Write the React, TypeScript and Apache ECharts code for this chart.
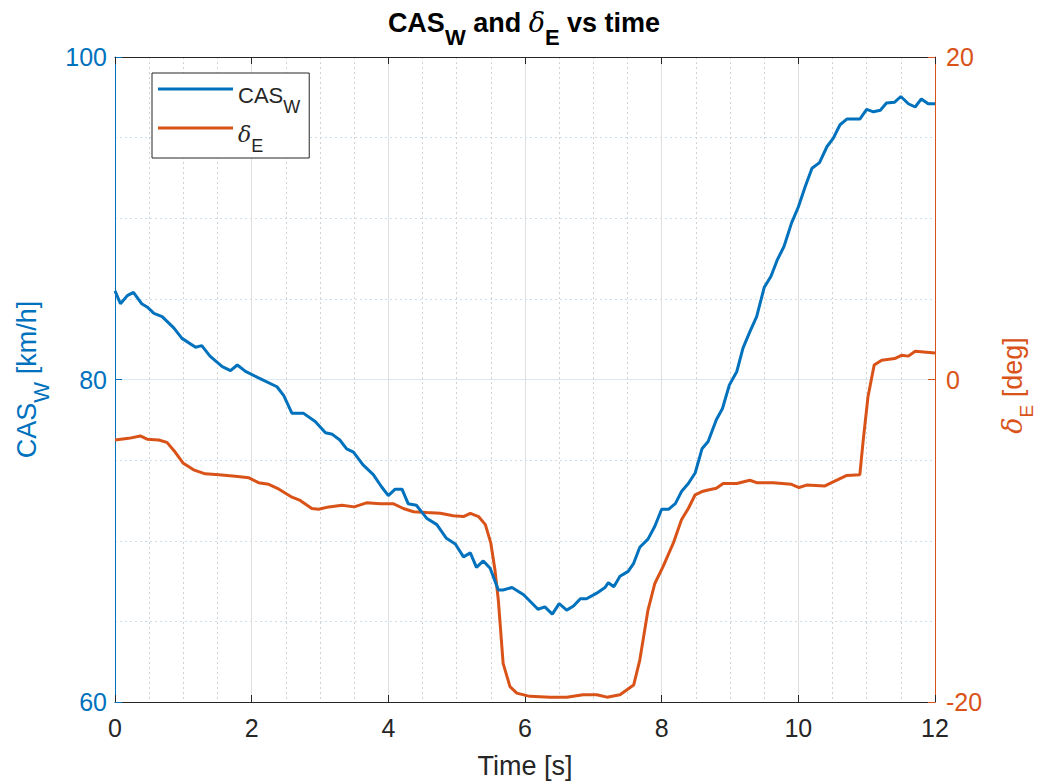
import React, { useEffect, useRef } from "react";
import * as echarts from "echarts";

// Calibrated airspeed (CAS_W) samples: time [s] and speed [km/h]
const casTime = [
  0, 0.08, 0.18, 0.27, 0.39, 0.47, 0.57, 0.69, 0.86, 0.98, 1.18, 1.27, 1.39, 1.57, 1.69, 1.79, 1.91,
  2.1, 2.37, 2.47, 2.59, 2.76, 2.93, 3.08, 3.18, 3.29, 3.39, 3.49, 3.63, 3.78, 3.9, 4.0, 4.1, 4.2,
  4.29, 4.41, 4.56, 4.71, 4.85, 4.98, 5.1, 5.2, 5.29, 5.39, 5.49, 5.61, 5.68, 5.81, 5.98, 6.19, 6.29,
  6.4, 6.5, 6.61, 6.71, 6.81, 6.9, 7.05, 7.17, 7.22, 7.3, 7.39, 7.51, 7.59, 7.68, 7.8, 7.9, 8.0, 8.1,
  8.2, 8.29, 8.39, 8.49, 8.59, 8.68, 8.8, 8.89, 8.99, 9.1, 9.19, 9.29, 9.39, 9.5, 9.6, 9.69, 9.79,
  9.9, 10.0, 10.1, 10.2, 10.31, 10.42, 10.51, 10.61, 10.71, 10.9, 11.0, 11.1, 11.2, 11.29, 11.41,
  11.5, 11.61, 11.71, 11.8, 11.9, 12.0,
];
const casValues = [
  85.5, 84.7, 85.2, 85.4, 84.7, 84.5, 84.1, 83.9, 83.2, 82.55, 82.0, 82.1, 81.45, 80.8, 80.55, 80.9,
  80.5, 80.1, 79.55, 79.0, 77.9, 77.9, 77.4, 76.7, 76.6, 76.25, 75.7, 75.5, 74.7, 74.1, 73.35, 72.8,
  73.2, 73.2, 72.3, 72.2, 71.4, 71.0, 70.15, 69.8, 69.0, 69.25, 68.35, 68.75, 68.3, 66.95, 66.95,
  67.1, 66.65, 65.75, 65.9, 65.45, 66.1, 65.7, 65.95, 66.4, 66.4, 66.75, 67.1, 67.4, 67.15, 67.8,
  68.1, 68.6, 69.6, 70.1, 70.9, 71.95, 71.95, 72.3, 73.05, 73.55, 74.2, 75.7, 76.15, 77.5, 78.2,
  79.65, 80.5, 81.95, 82.95, 83.9, 85.7, 86.4, 87.4, 88.25, 89.7, 90.7, 91.95, 93.1, 93.45, 94.45,
  94.95, 95.8, 96.15, 96.15, 96.75, 96.6, 96.7, 97.15, 97.2, 97.55, 97.1, 96.9, 97.4, 97.1, 97.1,
];

// Elevator deflection (delta_E) samples: time [s] and angle [deg]
const elevTime = [
  0, 0.2, 0.37, 0.47, 0.64, 0.76, 0.88, 1.0, 1.15, 1.32, 1.52, 1.76, 1.96, 2.1, 2.25, 2.4, 2.59, 2.71,
  2.88, 2.98, 3.13, 3.32, 3.5, 3.68, 3.88, 4.07, 4.22, 4.37, 4.56, 4.76, 4.95, 5.1, 5.2, 5.32, 5.42,
  5.5, 5.56, 5.61, 5.68, 5.78, 5.88, 6.07, 6.37, 6.61, 6.85, 7.05, 7.2, 7.39, 7.59, 7.68, 7.8, 7.9,
  8.02, 8.17, 8.29, 8.39, 8.49, 8.59, 8.68, 8.8, 8.9, 9.1, 9.29, 9.39, 9.63, 9.9, 10.01, 10.12,
  10.39, 10.51, 10.71, 10.9, 10.95, 11.02, 11.11, 11.22, 11.41, 11.51, 11.61, 11.71, 12.0,
];
const elevValues = [
  -3.75, -3.65, -3.5, -3.7, -3.75, -3.9, -4.5, -5.2, -5.6, -5.85, -5.9, -6.0, -6.1, -6.4, -6.5, -6.8,
  -7.3, -7.5, -8.0, -8.05, -7.9, -7.8, -7.9, -7.65, -7.7, -7.7, -8.0, -8.2, -8.25, -8.3, -8.45, -8.5,
  -8.3, -8.5, -9.0, -10.15, -11.8, -13.7, -17.6, -19.05, -19.45, -19.65, -19.7, -19.7, -19.55,
  -19.55, -19.7, -19.55, -18.95, -17.4, -14.3, -12.65, -11.6, -10.15, -8.7, -8.0, -7.15, -6.95,
  -6.85, -6.75, -6.45, -6.45, -6.25, -6.4, -6.4, -6.5, -6.7, -6.55, -6.6, -6.35, -5.95, -5.9, -3.75,
  -1.05, 0.9, 1.2, 1.3, 1.5, 1.45, 1.75, 1.65,
];

const timeTicks = { min: 0, max: 12, step: 2 };
const casTicks = { min: 60, max: 100, step: 20 };
const elevTicks = { min: -20, max: 20, step: 20 };

const BLUE = "#0072BD";
const ORANGE = "#D95319";
const DARK = "#262626";
const FONT = "'Liberation Sans', Arial, Helvetica, sans-serif";

const zip = (xs: number[], ys: number[]) => xs.map((x, i) => [x, ys[i]]);

// Rich-text styles for TeX-like labels: main text stays vertically centred in
// the block, subscripts are smaller and dropped below the baseline.
const texRich = (
  color: string,
  s: number,
  weight: string,
  opts: { subScale?: number; drop?: number; padBottom?: number } = {}
) => {
  const pt = Math.round(0.33 * s);
  const pb = opts.padBottom ?? pt;
  const drop = Math.round((opts.drop ?? 0.622) * s);
  const sub = Math.round((opts.subScale ?? 0.8) * s);
  return {
    main: {
      fontSize: s, fontWeight: weight, color, fontFamily: FONT,
      lineHeight: Math.round(1.1 * s), verticalAlign: "top", padding: [pt, 0, pb, 0],
    },
    greek: {
      fontSize: s, fontStyle: "italic", fontWeight: "normal", color, fontFamily: "'DejaVu Serif', serif",
      lineHeight: Math.round(1.1 * s), verticalAlign: "top", padding: [pt, 0, pb, 0],
    },
    sub: {
      fontSize: sub, fontWeight: weight, color, fontFamily: FONT,
      lineHeight: sub, verticalAlign: "top", padding: [pt + drop, 0, 0, 0],
    },
  };
};

export default function App() {
  const ref = useRef<HTMLDivElement>(null);

  useEffect(() => {
    if (!ref.current) return;
    const chart = echarts.init(ref.current, undefined, { renderer: "svg" });

    chart.setOption({
      animation: false,
      backgroundColor: "#ffffff",
      title: {
        text: "{main|CAS}{sub|W}{main| and }{greek|δ}{sub|E}{main| vs time}",
        left: 524,
        top: 0,
        padding: 0,
        textAlign: "center",
        textStyle: { rich: texRich("#000000", 27, "bold") },
      },
      legend: {
        orient: "vertical",
        left: 152,
        top: 73,
        padding: [4, 9, 3, 6],
        itemGap: 0,
        itemWidth: 75,
        itemHeight: 3,
        icon: "rect",
        backgroundColor: "#ffffff",
        borderColor: DARK,
        borderWidth: 1,
        borderRadius: 0,
        data: ["CAS_W", "delta_E"],
        formatter: (name: string) =>
          name === "CAS_W" ? "{main|CAS}{sub|W}" : "{greek|δ}{sub|E}",
        textStyle: { rich: texRich(DARK, 22, "normal") },
      },
      grid: {
        left: 115,
        right: 105,
        top: 57,
        bottom: 80,
        containLabel: false,
        outerBoundsMode: "none",
      },
      xAxis: [
        {
          type: "value",
          position: "bottom",
          min: timeTicks.min,
          max: timeTicks.max,
          interval: timeTicks.step,
          name: "Time [s]",
          nameLocation: "middle",
          nameGap: 50,
          nameMoveOverlap: false,
          nameTextStyle: { color: DARK, fontSize: 27, fontFamily: FONT },
          axisLine: { show: true, onZero: false, lineStyle: { color: DARK, width: 1 } },
          axisTick: { show: true, inside: true, length: 7, lineStyle: { color: DARK } },
          axisLabel: { color: DARK, fontSize: 25, fontFamily: FONT, margin: 13 },
          splitLine: { show: true, lineStyle: { color: "#dfdfdf", width: 1 } },
          minorTick: { show: false, splitNumber: 4 },
          minorSplitLine: { show: true, lineStyle: { color: "#d2d2d2", width: 1, type: [2, 3] } },
        },
        {
          type: "value",
          position: "top",
          min: timeTicks.min,
          max: timeTicks.max,
          interval: timeTicks.step,
          axisLine: { show: true, onZero: false, lineStyle: { color: DARK, width: 1 } },
          axisTick: { show: true, inside: true, length: 7, lineStyle: { color: DARK } },
          axisLabel: { show: false },
          splitLine: { show: false },
        },
      ],
      yAxis: [
        {
          type: "value",
          position: "left",
          min: casTicks.min,
          max: casTicks.max,
          interval: casTicks.step,
          name: "{main|CAS}{sub|W}{main| [km/h]}",
          nameLocation: "middle",
          nameRotate: 90,
          nameGap: 81,
          nameMoveOverlap: false,
          nameTextStyle: { rich: texRich(BLUE, 27, "normal") },
          axisLine: { show: true, onZero: false, lineStyle: { color: BLUE, width: 1 } },
          axisTick: { show: true, inside: true, length: 7, lineStyle: { color: BLUE } },
          axisLabel: { color: BLUE, fontSize: 25, fontFamily: FONT, margin: 8 },
          splitLine: { show: true, lineStyle: { color: "#d9eaf5", width: 1 } },
          minorTick: { show: false, splitNumber: 4 },
          minorSplitLine: { show: true, lineStyle: { color: "#c9e0f0", width: 1, type: [2, 3] } },
        },
        {
          type: "value",
          position: "right",
          min: elevTicks.min,
          max: elevTicks.max,
          interval: elevTicks.step,
          name: "{greek|δ}{sub|E}{main| [deg]}",
          nameLocation: "middle",
          nameRotate: 90,
          nameGap: 55,
          nameMoveOverlap: false,
          nameTextStyle: {
            rich: texRich(ORANGE, 27, "normal", { subScale: 0.7, drop: 0.67, padBottom: 0 }),
            padding: [0, 12, 0, 0],
          },
          axisLine: { show: true, onZero: false, lineStyle: { color: ORANGE, width: 1 } },
          axisTick: { show: true, inside: true, length: 7, lineStyle: { color: ORANGE } },
          axisLabel: { color: ORANGE, fontSize: 25, fontFamily: FONT, margin: 11 },
          splitLine: { show: false },
        },
      ],
      series: [
        {
          name: "CAS_W",
          type: "line",
          xAxisIndex: 0,
          yAxisIndex: 0,
          data: zip(casTime, casValues),
          showSymbol: false,
          symbol: "none",
          color: BLUE,
          lineStyle: { color: BLUE, width: 3 },
          z: 3,
        },
        {
          name: "delta_E",
          type: "line",
          xAxisIndex: 0,
          yAxisIndex: 1,
          data: zip(elevTime, elevValues),
          showSymbol: false,
          symbol: "none",
          color: ORANGE,
          lineStyle: { color: ORANGE, width: 3 },
          z: 2,
        },
      ],
    });

    return () => chart.dispose();
  }, []);

  return (
    <div
      ref={ref}
      style={{ position: "fixed", left: 0, top: 0, width: 1040, height: 782, background: "#fff" }}
    />
  );
}
